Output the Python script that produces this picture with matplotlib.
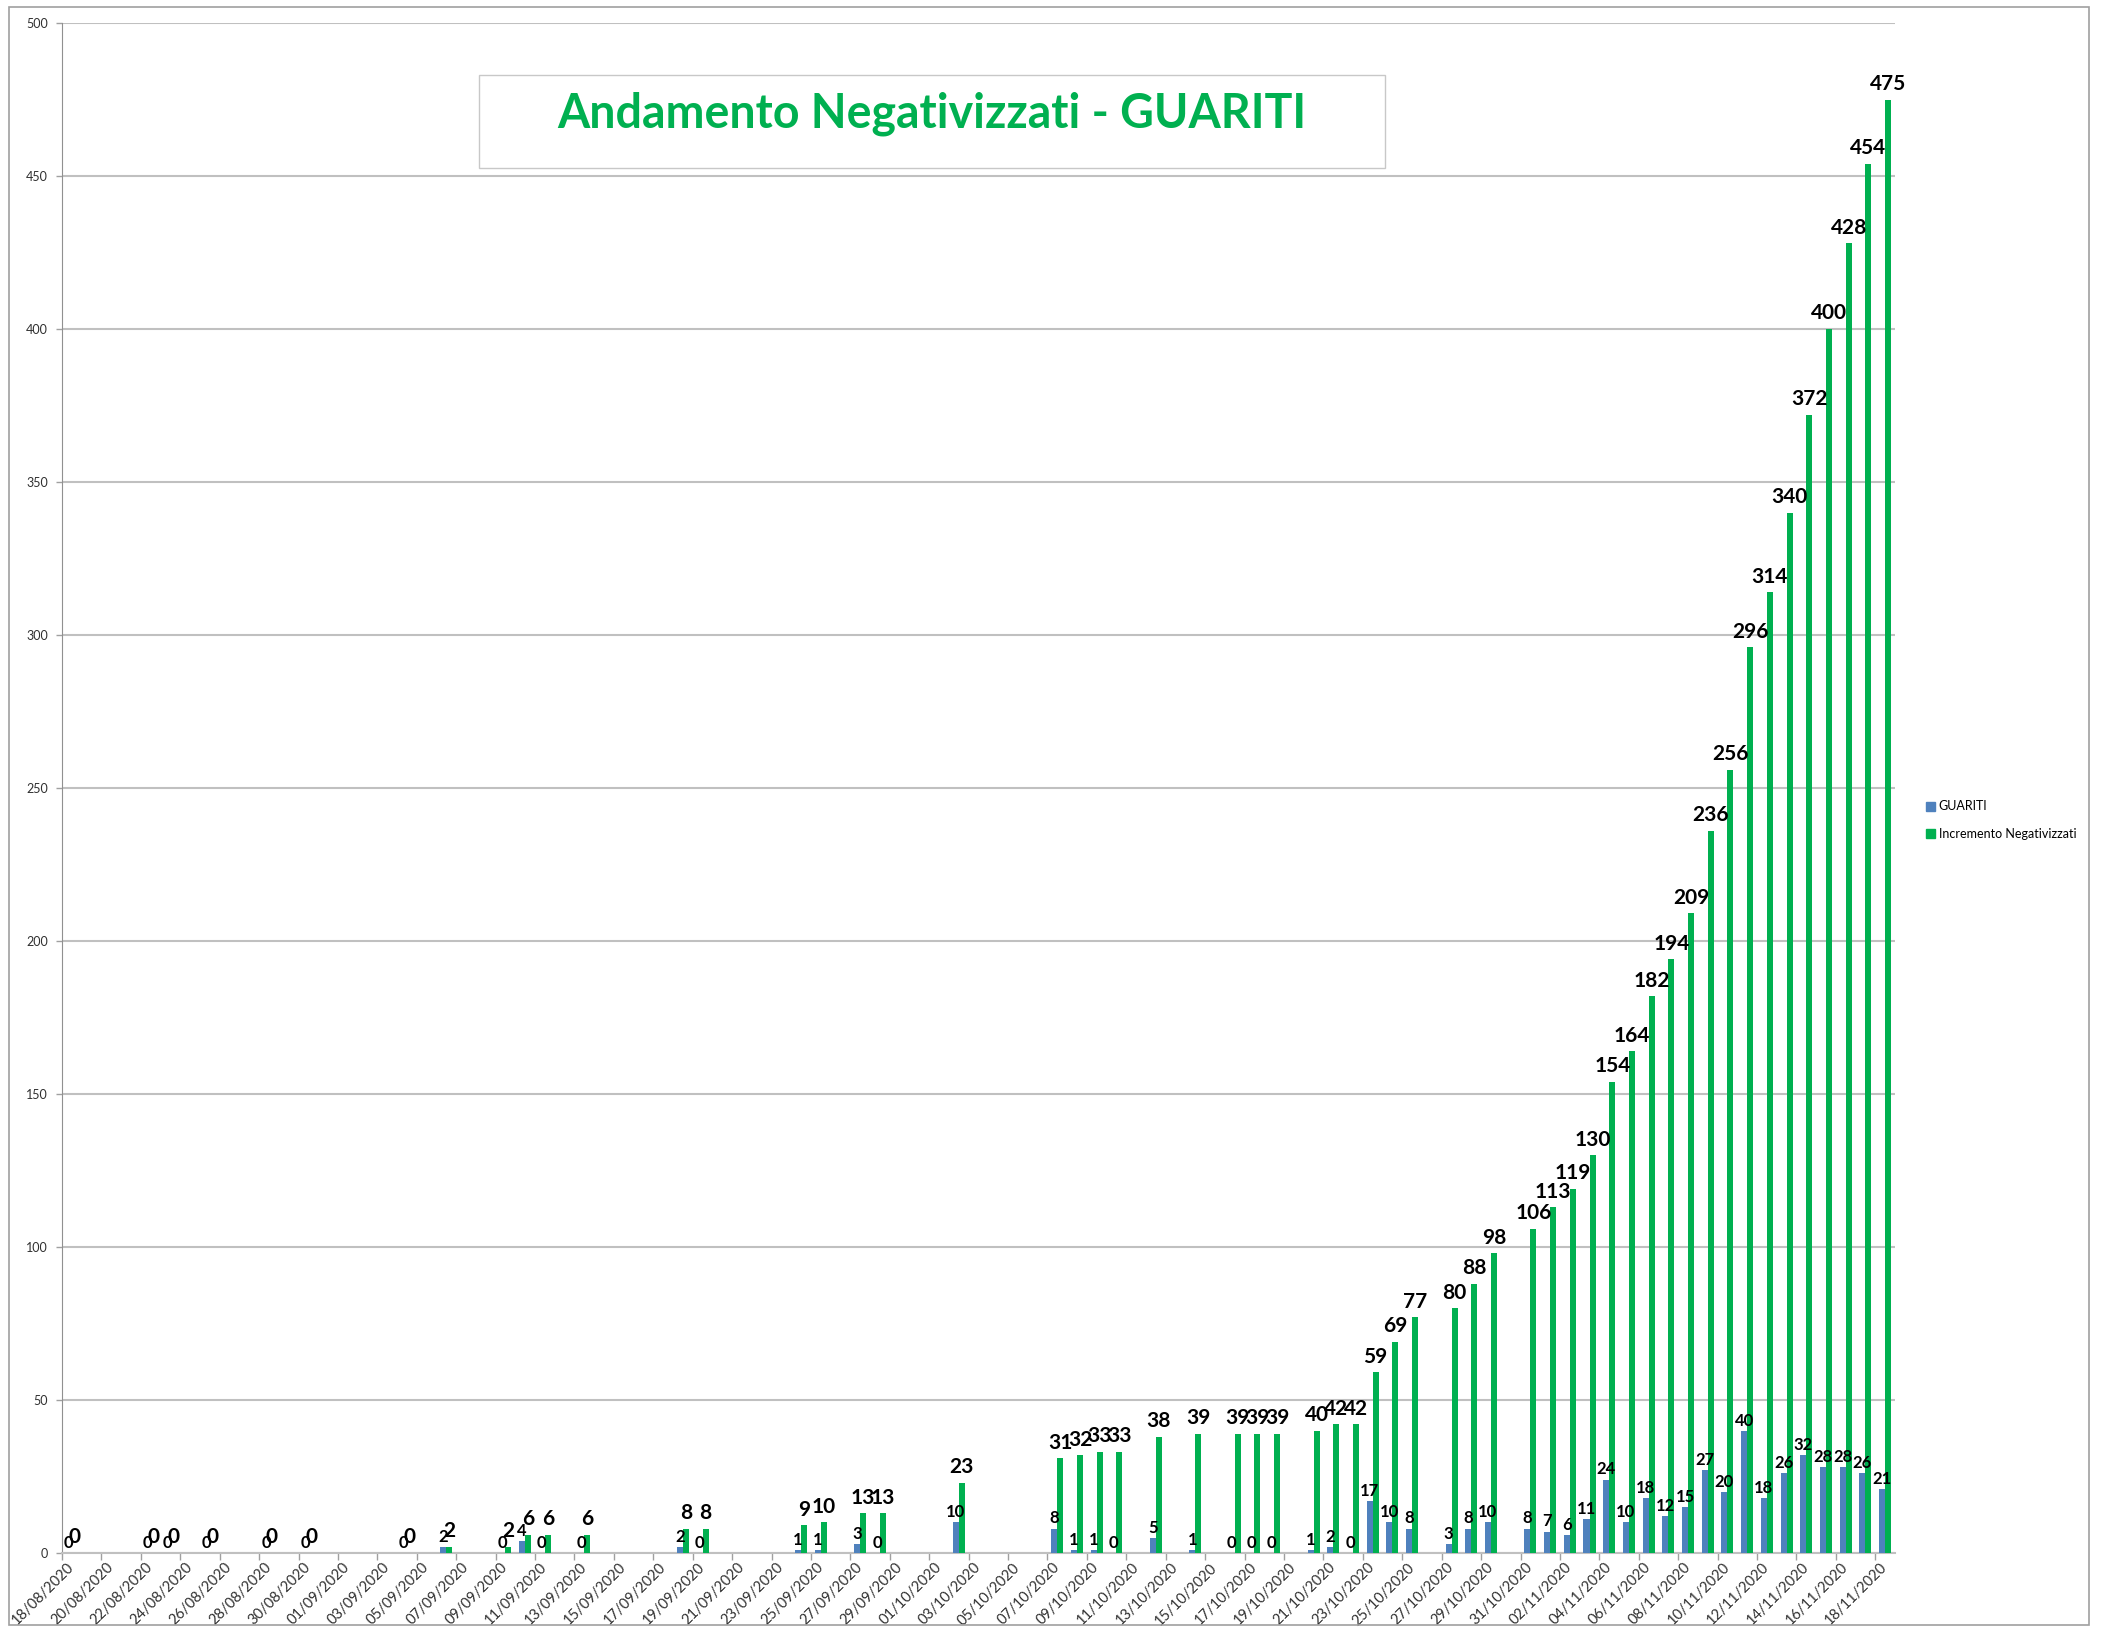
import numpy as np
import pandas as pd
import matplotlib.pyplot as plt
from matplotlib.patches import Rectangle, Patch

first_day = "18/08/2020"
last_day = "18/11/2020"

date_labels = [
    "18/08/2020", "22/08/2020", "23/08/2020", "25/08/2020", "28/08/2020", "30/08/2020",
    "04/09/2020", "06/09/2020", "09/09/2020", "10/09/2020", "11/09/2020", "13/09/2020",
    "18/09/2020", "19/09/2020", "24/09/2020", "25/09/2020", "27/09/2020", "28/09/2020",
    "02/10/2020", "07/10/2020", "08/10/2020", "09/10/2020", "10/10/2020", "12/10/2020",
    "14/10/2020", "16/10/2020", "17/10/2020", "18/10/2020", "20/10/2020", "21/10/2020",
    "22/10/2020", "23/10/2020", "24/10/2020", "25/10/2020", "27/10/2020", "28/10/2020",
    "29/10/2020", "31/10/2020", "01/11/2020", "02/11/2020", "03/11/2020", "04/11/2020",
    "05/11/2020", "06/11/2020", "07/11/2020", "08/11/2020", "09/11/2020", "10/11/2020",
    "11/11/2020", "12/11/2020", "13/11/2020", "14/11/2020", "15/11/2020", "16/11/2020",
    "17/11/2020", "18/11/2020",
]

guariti = [
    0, 0, 0, 0, 0, 0,
    0, 2, 0, 4, 0, 0, 2, 0, 1, 1, 3, 0,
    10, 8, 1, 1, 0, 5, 1, 0, 0, 0, 1, 2, 0, 17, 10, 8, 3, 8, 10, 8,
    7, 6, 11, 24, 10, 18, 12, 15, 27, 20, 40, 18, 26, 32, 28, 28, 26, 21,
]

incremento = [
    0, 0, 0, 0, 0, 0,
    0, 2, 2, 6, 6, 6, 8, 8, 9, 10, 13, 13,
    23, 31, 32, 33, 33, 38, 39, 39, 39, 39, 40, 42, 42, 59, 69, 77, 80, 88, 98, 106,
    113, 119, 130, 154, 164, 182, 194, 209, 236, 256, 296, 314, 340, 372, 400, 428, 454, 475,
]

series_names = ["GUARITI", "Incremento Negativizzati"]
title = "Andamento Negativizzati - GUARITI"

blue = "#4F81BD"
green = "#00B050"
font = ["Lato", "DejaVu Sans"]

W, H = 2103, 1630

days = pd.date_range(pd.to_datetime(first_day, dayfirst=True),
                     pd.to_datetime(last_day, dayfirst=True), freq="D")
pos = (pd.to_datetime(date_labels, dayfirst=True) - days[0]).days.to_numpy() + 0.5

fig = plt.figure(figsize=(W / 100, H / 100), dpi=100)
ax = fig.add_axes([62 / W, 1 - 1553 / H, (1895 - 62) / W, (1553 - 23) / H])

w = 0.305
ax.bar(pos - w / 2, guariti, w, color=blue, zorder=3)
ax.bar(pos + w / 2, incremento, w, color=green, zorder=3)

for x, v in zip(pos - w / 2, guariti):
    ax.annotate(str(v), (x, v), xytext=(0, 1.5), textcoords="offset points",
                ha="center", va="bottom", fontsize=12, fontweight="bold",
                family=font, zorder=4)
for x, v in zip(pos + w / 2, incremento):
    ax.annotate(str(v), (x, v), xytext=(0, 4), textcoords="offset points",
                ha="center", va="bottom", fontsize=15, fontweight="bold",
                family=font, zorder=4)

ax.set_xlim(0, len(days))
ax.set_ylim(0, 500)
ax.set_yticks(np.arange(0, 501, 50))
ax.yaxis.grid(True, color="#C0C0C0", lw=1.5)
ax.set_axisbelow(True)

ticks = np.arange(0, len(days), 2)
ax.set_xticks(ticks)
ax.set_xticklabels([])
ax.set_xticks(ticks + 0.5, minor=True)
ax.set_xticklabels(days[::2].strftime("%d/%m/%Y"), minor=True, rotation=45,
                   ha="right", va="center", rotation_mode="anchor", family=font)
ax.tick_params(axis="x", which="major", length=5, width=1, color="#A0A0A0")
ax.tick_params(axis="x", which="minor", length=0, pad=9, labelsize=10.5, labelcolor="#303030")
ax.tick_params(axis="y", length=4, width=1, color="#A0A0A0", labelsize=9,
               labelcolor="#303030", pad=6)
for lbl in ax.get_yticklabels():
    lbl.set_family(font)

for side in ["top", "right"]:
    ax.spines[side].set_visible(False)
ax.spines["left"].set_color("#909090")
ax.spines["bottom"].set_color("#C0C0C0")
ax.spines["bottom"].set_linewidth(1.5)

handles = [Patch(color=blue, label=series_names[0]), Patch(color=green, label=series_names[1])]
ax.legend(handles=handles, loc="center left", bbox_to_anchor=(1915 / W, 1 - 820 / H),
          bbox_transform=fig.transFigure, frameon=False,
          prop={"family": font, "size": 9},
          handlelength=0.7, handleheight=0.7, handletextpad=0.3, labelspacing=1.2)

# outer chart border
fig.add_artist(Rectangle((9 / W, 1 - 1625 / H), (2089 - 9) / W, (1625 - 7) / H,
                         transform=fig.transFigure, fill=False, ec="#A0A0A0", lw=1.2))

# title box
fig.add_artist(Rectangle((479 / W, 1 - 168 / H), (1385 - 479) / W, (168 - 75) / H,
                         transform=fig.transFigure, fc="white", ec="#C8C8C8", lw=1, zorder=5))
fig.text(932 / W, 1 - 114 / H, title, ha="center", va="center", color=green,
         fontsize=33.5, fontweight="bold", family=font, zorder=6)

fig.savefig("out.png", dpi=100)
